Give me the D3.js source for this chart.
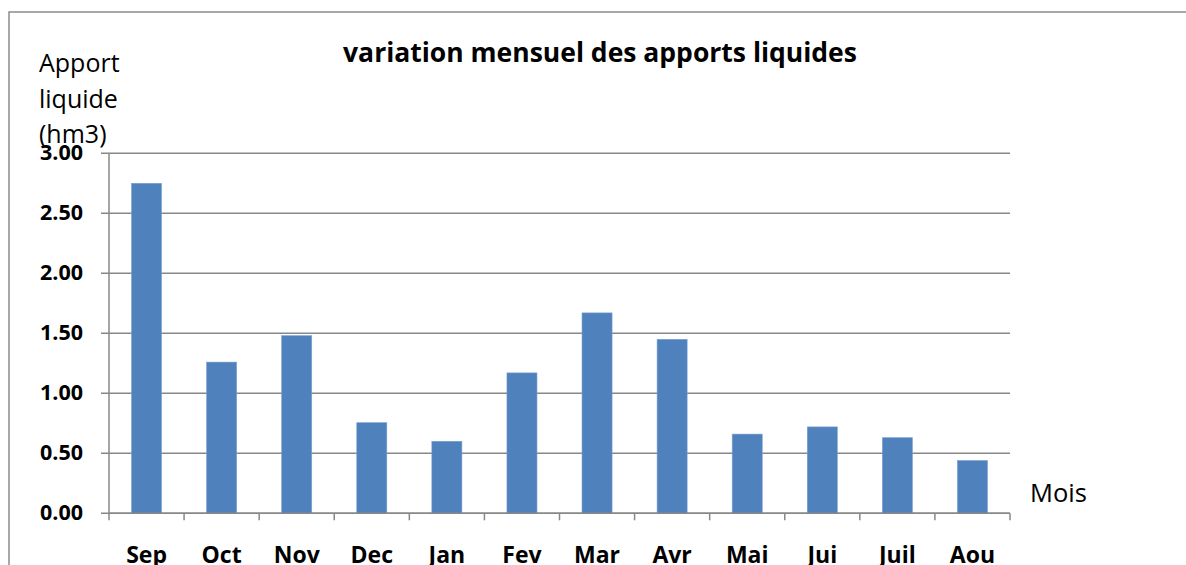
<!DOCTYPE html>
<html><head><meta charset="utf-8">
<script src="https://cdn.jsdelivr.net/npm/d3@7"></script>
<style>body{margin:0;background:#fff;} svg{display:block;}</style>
</head><body>
<script>
const months = ["Sep","Oct","Nov","Dec","Jan","Fev","Mar","Avr","Mai","Jui","Juil","Aou"];
const apports = [2.75,1.26,1.48,0.755,0.60,1.17,1.67,1.45,0.66,0.72,0.63,0.44];
const yTicks = [0,0.5,1,1.5,2,2.5,3];
const titleText = "variation mensuel des apports liquides";
const yTitle = ["Apport","liquide","(hm3)"];
const xTitle = "Mois";

const W=1186,H=565;
const svg=d3.select("body").append("svg").attr("width",W).attr("height",H);
const font="'Open Sans', sans-serif";
// outer frame
svg.append("rect").attr("x",9).attr("y",12).attr("width",1300).attr("height",700)
  .attr("fill","none").attr("stroke","#8c8c8c").attr("stroke-width",1.5);

const L=109,R=1010,T=153.3,B=513.3;
const x=d3.scaleBand().domain(months).range([L,R]).paddingInner(0.6).paddingOuter(0.3);
const y=d3.scaleLinear().domain([0,3]).range([B,T]);

// gridlines
svg.append("g").selectAll("line").data(yTicks).join("line")
  .attr("x1",L-8).attr("x2",R).attr("y1",d=>y(d)).attr("y2",d=>y(d))
  .attr("stroke","#888").attr("stroke-width",1.5);
// y axis line
svg.append("line").attr("x1",L).attr("x2",L).attr("y1",T).attr("y2",B).attr("stroke","#888").attr("stroke-width",1.5);

// bars
svg.append("g").selectAll("rect").data(apports).join("rect")
  .attr("x",(d,i)=>x(months[i])).attr("width",x.bandwidth())
  .attr("y",d=>y(d)).attr("height",d=>B-y(d))
  .attr("fill","#4F81BD").attr("stroke","#7aa0d0").attr("stroke-width",0.6);

// x axis line + ticks
svg.append("line").attr("x1",L).attr("x2",R).attr("y1",B).attr("y2",B).attr("stroke","#888").attr("stroke-width",1.5);
const step=(R-L)/months.length;
const tickPos=d3.range(months.length+1).map(i=>L+i*step);
svg.append("g").selectAll("line").data(tickPos).join("line")
  .attr("x1",d=>d).attr("x2",d=>d).attr("y1",B).attr("y2",B+7).attr("stroke","#888").attr("stroke-width",1.5);

// y tick labels
svg.append("g").selectAll("text").data(yTicks).join("text")
  .attr("x",83).attr("y",d=>y(d)+7).attr("text-anchor","end")
  .attr("font-family",font).attr("font-weight","bold").attr("font-size",21.5).attr("fill","#000")
  .text(d=>d3.format(".2f")(d));

// x labels
svg.append("g").selectAll("text").data(months).join("text")
  .attr("x",d=>x(d)+x.bandwidth()/2).attr("y",563).attr("text-anchor","middle")
  .attr("font-family",font).attr("font-weight","bold").attr("font-size",23).attr("fill","#000")
  .text(d=>d);

// title
svg.append("text").attr("x",600).attr("y",61.5).attr("text-anchor","middle")
  .attr("font-family",font).attr("font-weight","bold").attr("font-size",26.5).attr("fill","#000")
  .text(titleText);

// y title
svg.append("g").selectAll("text").data(yTitle).join("text")
  .attr("x",39).attr("y",(d,i)=>72+i*35.5)
  .attr("font-family",font).attr("font-size",25).attr("fill","#000").text(d=>d);

// x title
svg.append("text").attr("x",1030).attr("y",502)
  .attr("font-family",font).attr("font-size",25.5).attr("fill","#000").text(xTitle);
</script>
</body></html>
